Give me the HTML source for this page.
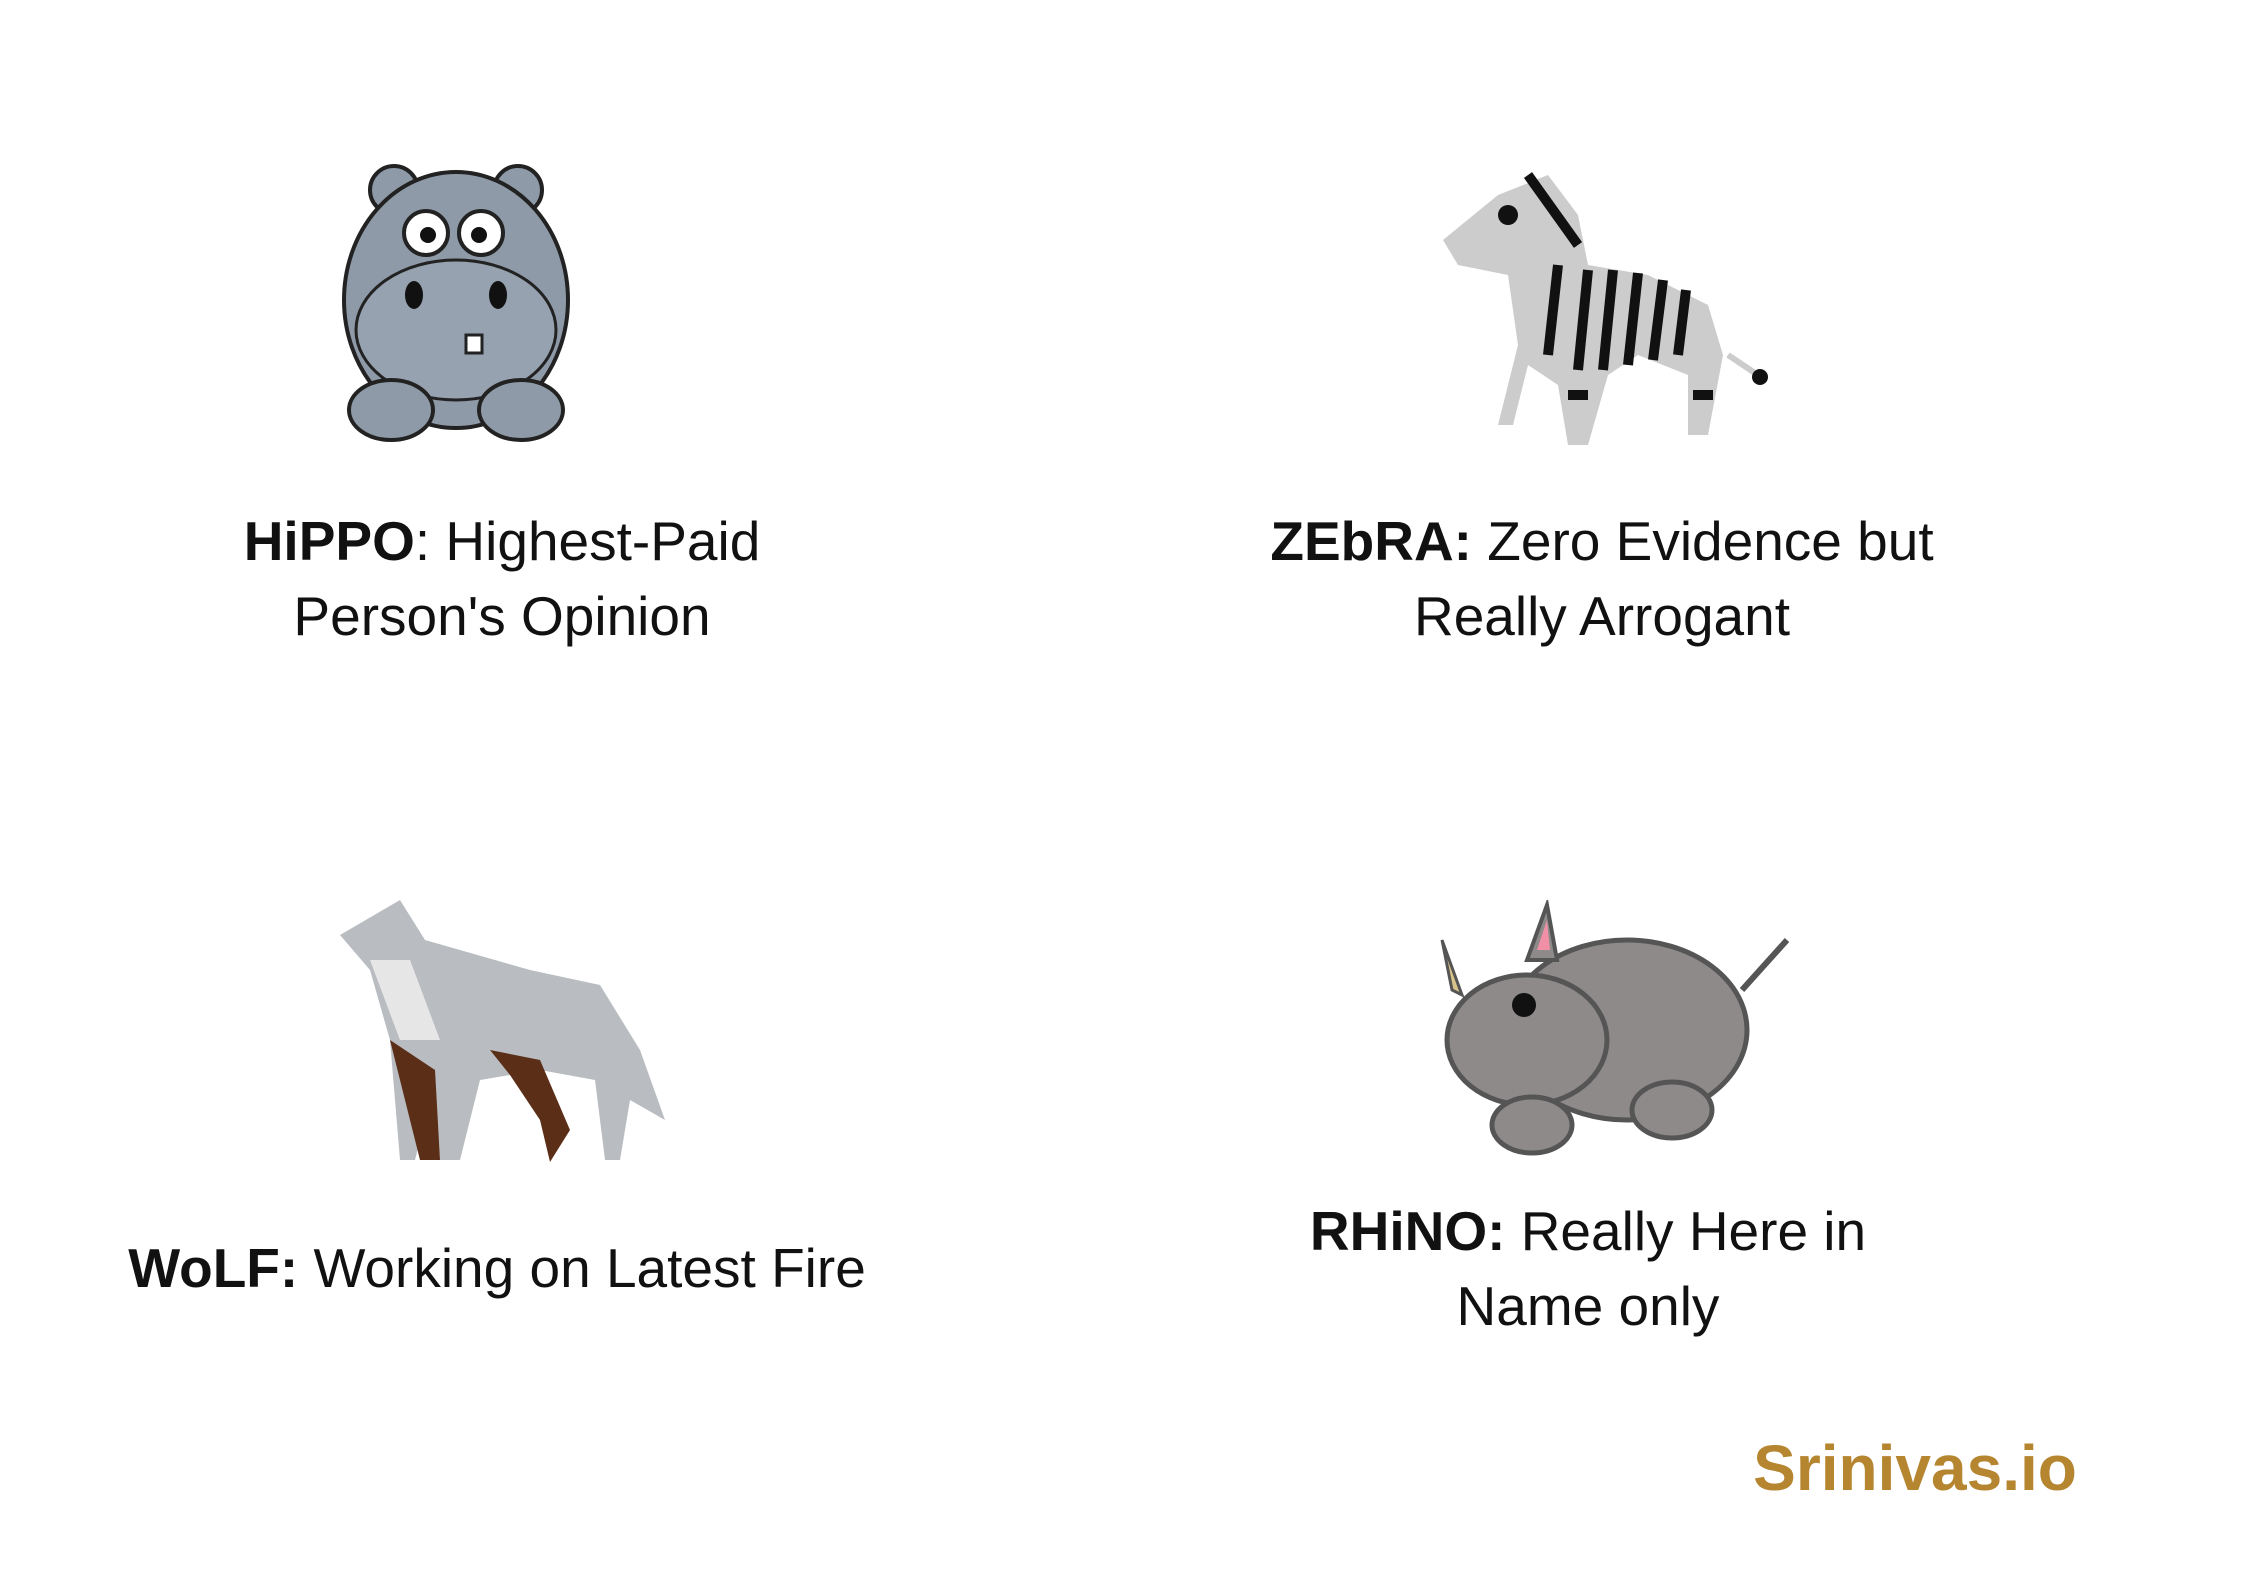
<!DOCTYPE html>
<html><head><meta charset="utf-8">
<style>
html,body{margin:0;padding:0;background:#fff;}
body{width:2245px;height:1587px;position:relative;overflow:hidden;font-family:"Liberation Sans",sans-serif;color:#111;}
.cap{position:absolute;text-align:center;font-size:55px;line-height:75px;white-space:nowrap;transform:translateX(-50%);}
.cap b{font-weight:bold;}
svg{position:absolute;}
#brand{position:absolute;left:1915px;top:1431px;transform:translateX(-50%);font-size:64px;font-weight:bold;color:#b5852f;white-space:nowrap;}
</style></head>
<body>

<svg style="left:336px;top:155px" width="240" height="290" viewBox="0 0 240 290">
  <circle cx="58" cy="35" r="24" fill="#8f9aa8" stroke="#222" stroke-width="4"/>
  <circle cx="182" cy="35" r="24" fill="#8f9aa8" stroke="#222" stroke-width="4"/>
  <ellipse cx="120" cy="145" rx="112" ry="128" fill="#8f9aa8" stroke="#222" stroke-width="4"/>
  <ellipse cx="120" cy="175" rx="100" ry="70" fill="#97a2b0" stroke="#222" stroke-width="3"/>
  <circle cx="90" cy="78" r="22" fill="#fff" stroke="#222" stroke-width="4"/>
  <circle cx="145" cy="78" r="22" fill="#fff" stroke="#222" stroke-width="4"/>
  <circle cx="92" cy="80" r="8" fill="#111"/><circle cx="143" cy="80" r="8" fill="#111"/>
  <ellipse cx="78" cy="140" rx="9" ry="14" fill="#111"/><ellipse cx="162" cy="140" rx="9" ry="14" fill="#111"/>
  <rect x="130" y="180" width="16" height="18" fill="#fff" stroke="#222" stroke-width="3"/>
  <ellipse cx="55" cy="255" rx="42" ry="30" fill="#8f9aa8" stroke="#222" stroke-width="4"/>
  <ellipse cx="185" cy="255" rx="42" ry="30" fill="#8f9aa8" stroke="#222" stroke-width="4"/>
</svg>
<div class="cap" style="left:502px;top:504px"><b>HiPPO</b>: Highest-Paid<br>Person's Opinion</div>

<svg style="left:1438px;top:155px" width="330" height="295" viewBox="0 0 330 295">
  <path d="M5 85 L60 40 L110 20 L140 60 L150 110 L210 120 L270 150 L285 200 L270 280 L250 280 L250 220 L200 200 L170 220 L150 290 L130 290 L120 230 L90 210 L75 270 L60 270 L80 190 L70 120 L20 110 Z" fill="#ccc"/>
  <g stroke="#111" stroke-width="10">
    <line x1="90" y1="20" x2="140" y2="90"/><line x1="120" y1="110" x2="110" y2="200"/>
    <line x1="150" y1="115" x2="140" y2="215"/><line x1="175" y1="115" x2="165" y2="215"/>
    <line x1="200" y1="118" x2="190" y2="210"/><line x1="225" y1="125" x2="215" y2="205"/>
    <line x1="248" y1="135" x2="240" y2="200"/><line x1="130" y1="240" x2="150" y2="240"/>
    <line x1="255" y1="240" x2="275" y2="240"/>
  </g>
  <circle cx="70" cy="60" r="10" fill="#111"/>
  <path d="M290 200 L320 220" stroke="#ccc" stroke-width="6"/><circle cx="322" cy="222" r="8" fill="#111"/>
</svg>
<div class="cap" style="left:1602px;top:504px"><b>ZEbRA:</b> Zero Evidence but<br>Really Arrogant</div>

<svg style="left:340px;top:900px" width="330" height="275" viewBox="0 0 330 275">
  <path d="M0 35 L60 0 L85 40 L190 70 L260 85 L300 150 L325 220 L290 200 L280 260 L265 260 L255 180 L200 170 L140 180 L120 260 L100 260 L95 180 L75 260 L60 260 L50 140 L30 70 Z" fill="#b9bcc0"/>
  <path d="M50 140 L95 170 L100 260 L80 260 Z M150 150 L200 160 L230 230 L210 262 L200 220 L170 175 Z" fill="#5a2e17"/>
  <path d="M30 60 L60 140 L100 140 L70 60 Z" fill="#e6e6e6"/>
</svg>
<div class="cap" style="left:497px;top:1231px"><b>WoLF:</b> Working on Latest Fire</div>

<svg style="left:1432px;top:900px" width="365" height="275" viewBox="0 0 365 275">
  <ellipse cx="195" cy="130" rx="120" ry="90" fill="#8e8a8a" stroke="#555" stroke-width="5"/>
  <ellipse cx="95" cy="140" rx="80" ry="65" fill="#8e8a8a" stroke="#555" stroke-width="5"/>
  <path d="M20 90 L10 40 L30 95 Z" fill="#d8c48a" stroke="#555" stroke-width="3"/>
  <path d="M95 60 L115 5 L125 60 Z" fill="#8e8a8a" stroke="#555" stroke-width="4"/>
  <path d="M105 50 L115 20 L118 50 Z" fill="#f08fa5"/>
  <circle cx="92" cy="105" r="12" fill="#111"/>
  <ellipse cx="100" cy="225" rx="40" ry="28" fill="#8e8a8a" stroke="#555" stroke-width="5"/>
  <ellipse cx="240" cy="210" rx="40" ry="28" fill="#8e8a8a" stroke="#555" stroke-width="5"/>
  <path d="M310 90 L355 40" stroke="#555" stroke-width="6"/>
</svg>
<div class="cap" style="left:1588px;top:1194px"><b>RHiNO:</b> Really Here in<br>Name only</div>

<div id="brand">Srinivas.io</div>
</body></html>
